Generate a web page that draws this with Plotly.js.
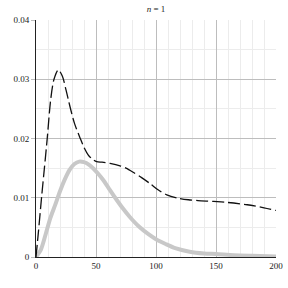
<!DOCTYPE html>
<html>
<head>
<meta charset="utf-8">
<script src="https://cdn.plot.ly/plotly-3.0.1.min.js"></script>
<style>html,body{margin:0;padding:0;background:#fff;}#chart{width:288px;height:288px;}</style>
</head>
<body>
<div id="chart"></div>
<script>
const dashX = [0, 2, 4.7, 7, 9.4, 12.2, 15, 18.6, 22, 25, 28.3, 32, 36.7, 40, 43.6, 47, 50.6, 55, 61.7, 70, 75, 81, 88, 95, 102, 109, 118, 127, 135, 148, 160, 176, 190, 200];
const dashY = [0, 0.0042, 0.0102, 0.0150, 0.0201, 0.0265, 0.0300, 0.0316, 0.0305, 0.0282, 0.0254, 0.0226, 0.0201, 0.0185, 0.0172, 0.0165, 0.0161, 0.0160, 0.0158, 0.0154, 0.0150, 0.0143, 0.0134, 0.0124, 0.0113, 0.0105, 0.00995, 0.00966, 0.00952, 0.00938, 0.0092, 0.00882, 0.0083, 0.00786];
const grayX = [0, 4, 8, 12, 16, 20, 24, 28, 32, 36, 40, 44, 48, 52, 56, 60, 66, 72, 78, 86, 94, 100, 108, 116, 128, 140, 150, 165, 180, 200];
const grayY = [0, 0.0012, 0.0038, 0.0066, 0.0088, 0.0111, 0.0131, 0.0147, 0.0157, 0.0161, 0.0160, 0.0156, 0.0149, 0.0140, 0.0130, 0.0118, 0.0100, 0.0083, 0.0068, 0.0051, 0.0038, 0.0030, 0.0022, 0.0015, 0.0009, 0.0006, 0.0005, 0.0003, 0.0002, 0.0001];
const xTicks = [0, 50, 100, 150, 200];
const yTicks = [0, 0.01, 0.02, 0.03, 0.04];
const yTickText = ['0', '0.01', '0.02', '0.03', '0.04'];

const traces = [
  {x: grayX, y: grayY, mode: 'lines', line: {color: '#c8c8c8', width: 4, shape: 'spline', smoothing: 0.8}, hoverinfo: 'none'},
  {x: dashX, y: dashY, mode: 'lines', line: {color: '#111', width: 1.3, dash: '12px,4px', shape: 'spline', smoothing: 0.8}, hoverinfo: 'none'}
];
const tickFont = {family: 'Liberation Serif, serif', size: 9, color: '#222'};
const layout = {
  width: 288, height: 288,
  margin: {l: 36, r: 12, t: 20, b: 31},
  paper_bgcolor: '#fff', plot_bgcolor: '#fff',
  showlegend: false,
  title: {text: '<i>n</i> = 1', font: {family: 'Liberation Serif, serif', size: 9, color: '#222'}, x: 0.5, xref: 'paper', y: 0.969, yref: 'container', yanchor: 'middle'},
  xaxis: {range: [0, 200], tickvals: xTicks, ticktext: xTicks.map(String), showgrid: true, gridcolor: '#bdbdbd', gridwidth: 1,
    minor: {dtick: 10, showgrid: true, gridcolor: '#ececec', gridwidth: 1}, showline: true, linecolor: '#222', linewidth: 1,
    zeroline: false, ticks: '', tickfont: tickFont, fixedrange: true},
  yaxis: {range: [0, 0.04], tickvals: yTicks, ticktext: yTickText, showgrid: true, gridcolor: '#bdbdbd', gridwidth: 1,
    minor: {dtick: 0.005, showgrid: true, gridcolor: '#ececec', gridwidth: 1}, showline: true, linecolor: '#222', linewidth: 1,
    zeroline: false, ticks: 'outside', ticklen: 4, tickcolor: '#bdbdbd', tickfont: tickFont, fixedrange: true}
};
Plotly.newPlot('chart', traces, layout, {staticPlot: true, displayModeBar: false});
</script>
</body>
</html>
